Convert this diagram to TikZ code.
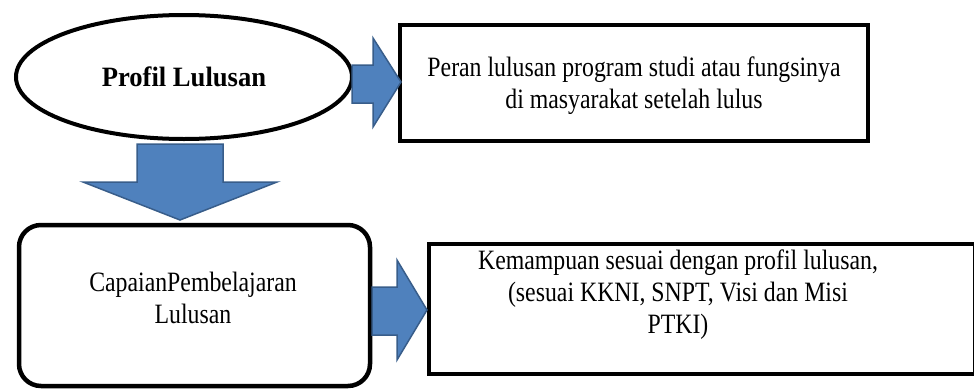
\documentclass[tikz,border=0pt]{standalone}
\usepackage{fontspec}
\setmainfont{Liberation Serif}
\newfontfamily\condserif[FakeStretch=0.85]{Liberation Serif}
\newfontfamily\boldserif[FakeStretch=0.95]{Liberation Serif}
\usetikzlibrary{shapes.geometric}
\definecolor{arrfill}{RGB}{79,129,189}
\definecolor{arrdraw}{RGB}{56,93,138}
\tikzset{
  blockarrow/.style={fill=arrfill,draw=arrdraw,line width=1.5pt,line join=miter},
  boxframe/.style={draw=black,line width=4.5pt,fill=white},
  txt/.style={align=center,font=\condserif\fontsize{28}{32}\selectfont,inner sep=0pt}
}
\begin{document}
\begin{tikzpicture}[x=1pt,y=-1pt]
\useasboundingbox (0,0) rectangle (974,391);
% nodes
\node[ellipse,draw=black,line width=4pt,minimum width=336pt,minimum height=124pt,inner sep=0pt,
      font=\boldserif\fontsize{28}{30}\selectfont\bfseries] (prof) at (184,77) {Profil Lulusan};
\node[boxframe,minimum width=468pt,minimum height=116pt,inner sep=0pt] (peran) at (634,83) {};
\node[txt] (perantxt) at (634,86) {Peran lulusan program studi atau fungsinya\\di masyarakat setelah lulus};
\node[boxframe,rounded corners=22pt,minimum width=351pt,minimum height=161pt,inner sep=0pt] (cpl) at (194.5,305.5) {};
\node[txt] (cpltxt) at (193,298) {CapaianPembelajaran\\Lulusan};
\node[boxframe,minimum width=546pt,minimum height=130pt,inner sep=0pt] (kem) at (702,309) {};
\node[txt] (kemtxt) at (678,295) {Kemampuan sesuai dengan profil lulusan,\\(sesuai KKNI, SNPT, Visi dan Misi\\PTKI)};
% block arrows
\draw[blockarrow] (352,65) -- (373,65) -- (373,38) -- (401,82) -- (373,127) -- (373,103) -- (352,103) -- cycle;
\draw[blockarrow] (137,144) -- (223,144) -- (223,182) -- (277,182) -- (180,220) -- (83,182) -- (137,182) -- cycle;
\draw[blockarrow] (372,287) -- (397,287) -- (397,260) -- (427,310) -- (397,360) -- (397,335) -- (372,335) -- cycle;
\end{tikzpicture}
\end{document}
